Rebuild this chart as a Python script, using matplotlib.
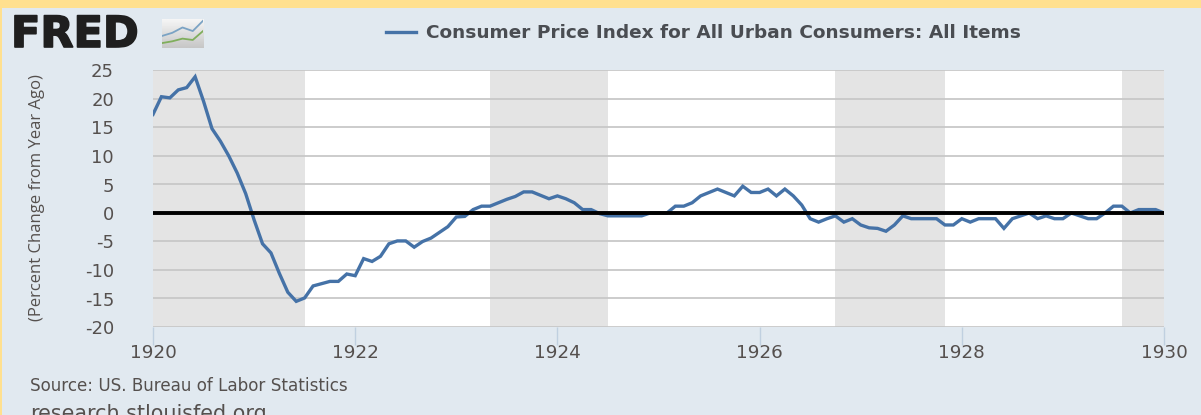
import numpy as np
import matplotlib.pyplot as plt
from matplotlib.patches import Rectangle
import matplotlib.patheffects as pe

# CPI, percent change from year ago, monthly from Jan 1920
cpi = [17.3, 20.4, 20.2, 21.6, 22.0, 23.9, 19.6, 14.8, 12.6, 10.0, 7.0, 3.4,
       -1.2, -5.4, -7.0, -10.6, -13.9, -15.5, -14.9, -12.8, -12.4, -12.0, -12.0, -10.7,
       -11.0, -8.0, -8.5, -7.6, -5.4, -4.9, -4.9, -6.0, -5.0, -4.4, -3.4, -2.4,
       -0.7, -0.6, 0.6, 1.2, 1.2, 1.8, 2.4, 2.9, 3.7, 3.7, 3.1, 2.5,
       3.0, 2.5, 1.8, 0.6, 0.6, -0.1, -0.5, -0.5, -0.5, -0.5, -0.5, 0.0,
       0.0, 0.0, 1.2, 1.2, 1.8, 3.0, 3.6, 4.2, 3.6, 3.0, 4.7, 3.6,
       3.6, 4.2, 3.0, 4.2, 3.0, 1.4, -1.0, -1.6, -1.0, -0.5, -1.6, -1.0,
       -2.1, -2.6, -2.7, -3.2, -2.1, -0.5, -1.0, -1.0, -1.0, -1.0, -2.1, -2.1,
       -1.0, -1.6, -1.0, -1.0, -1.0, -2.7, -1.0, -0.5, 0.0, -1.0, -0.5, -1.0,
       -1.0, 0.0, -0.5, -1.0, -1.0, 0.0, 1.2, 1.2, 0.0, 0.6, 0.6, 0.6, 0.0]
rec_start = [1920.0, 1923.33, 1926.75, 1929.58]
rec_end = [1921.5, 1924.5, 1927.83, 1930.0]
y_ticks = [-20, -15, -10, -5, 0, 5, 10, 15, 20, 25]
x_ticks = [1920, 1922, 1924, 1926, 1928, 1930]
icon_blue = [2.7, 3.4, 4.6, 3.8, 6.1]
icon_green = [1.1, 1.5, 2.1, 1.8, 3.8]

W, H = 1201, 415
years = 1920 + np.arange(len(cpi)) / 12

plt.rcParams['font.family'] = ['Open Sans', 'DejaVu Sans']
plt.rcParams['axes.unicode_minus'] = False
fig = plt.figure(figsize=(W / 100, H / 100), dpi=100, facecolor='#ffe08f')
fig.patches.append(Rectangle((2 / W, 0), 1, 1 - 8 / H, transform=fig.transFigure,
                             facecolor='#e1e9f0', edgecolor='none', zorder=-5))

ax = fig.add_axes([153 / W, 1 - 327 / H, (1164 - 153) / W, (327 - 70.5) / H])
ax.set_facecolor('white')
for a, b in zip(rec_start, rec_end):
    ax.axvspan(a, b, color='#e4e4e4', lw=0, zorder=1)
ax.grid(axis='y', color='#c8c8c8', lw=1.3, zorder=2)
ax.set_axisbelow(False)
line, = ax.plot(years, cpi, color='#4572a7', lw=2.4, zorder=3, solid_joinstyle='miter',
                label='Consumer Price Index for All Urban Consumers: All Items')
ax.axhline(0, color='black', lw=2.8, zorder=4)

ax.set_xlim(1920, 1930)
ax.set_ylim(-20, 25)
ax.set_yticks(y_ticks)
ax.set_xticks(x_ticks)
for s in ax.spines.values():
    s.set_visible(False)
ax.tick_params(axis='y', length=0, pad=28, labelcolor='#55504e')
ax.tick_params(axis='x', length=13, width=1, color='#c0d0e0', pad=-1, labelcolor='#55504e')
for t in ax.get_yticklabels():
    t.set(family=['DejaVu Sans'], fontsize=13)
for t in ax.get_xticklabels():
    t.set(family=['DejaVu Sans'], fontsize=13.2)
ax.set_ylabel('(Percent Change from Year Ago)', fontsize=12, color='#55504e')
ax.yaxis.set_label_coords(45 / W, 1 - 197.5 / H, transform=fig.transFigure)

fig.legend(handles=[line], loc='center left', bbox_to_anchor=(386 / W, 1 - 33.5 / H), frameon=False,
           handlelength=1.6, handletextpad=0.55, borderpad=0, borderaxespad=0, labelcolor='#4a4d52',
           prop={'size': 13.3, 'weight': 'bold', 'family': ['DejaVu Sans']})

fig.text(11 / W, 1 - 47 / H, 'FRED', fontsize=31, fontweight='bold', color='#1f1f1f',
         family=['DejaVu Sans'], path_effects=[pe.withStroke(linewidth=1.2, foreground='#1f1f1f')])
icon = fig.add_axes([162 / W, 1 - 48 / H, 41 / W, 29 / H])
icon.imshow(np.linspace(0.96, 0.78, 20).reshape(-1, 1), cmap='gray', vmin=0, vmax=1,
            extent=(0, 4, 0, 6.5), aspect='auto')
icon.plot(icon_blue, color='#7ba3c4', lw=1.3)
icon.plot(icon_green, color='#7fae5c', lw=1.3)
icon.set_xlim(0, 4)
icon.set_ylim(0, 6.5)
icon.axis('off')

fig.text(30 / W, 1 - 391 / H, 'Source: US. Bureau of Labor Statistics', fontsize=12.1, color='#55504e',
         family=['DejaVu Sans'])
fig.text(30 / W, 1 - 420 / H, 'research.stlouisfed.org', fontsize=14.9, color='#55504e',
         family=['DejaVu Sans'])

fig.savefig('out.png', dpi=100, facecolor=fig.get_facecolor())
